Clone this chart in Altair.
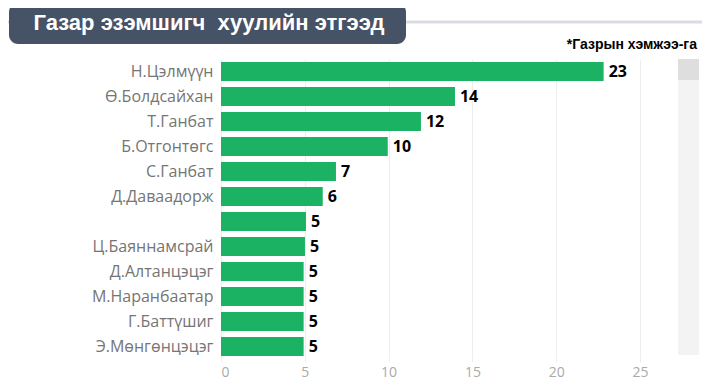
import altair as alt
import pandas as pd

names = ["Н.Цэлмүүн", "Ө.Болдсайхан", "Т.Ганбат", "Б.Отгонтөгс", "С.Ганбат",
         "Д.Даваадорж", "", "Ц.Баяннамсрай", "Д.Алтанцэцэг", "М.Наранбаатар",
         "Г.Баттүшиг", "Э.Мөнгөнцэцэг"]
values = [22.83, 13.96, 11.93, 9.95, 6.86, 6.07, 5.07, 5.01, 4.93, 4.93, 4.93, 4.93]
x_ticks = [0, 5, 10, 15, 20, 25]
title_text = "Газар эзэмшигч\u00a0 хуулийн этгээд"
subtitle_text = "*Газрын хэмжээ-га"

df = pd.DataFrame({"name": names, "value": values})
one = pd.DataFrame({"k": [0]})

W, H = 479, 300
green = "#1bb363"

xscale = alt.Scale(domain=[0, 28.58], nice=False, zero=True)
yenc = alt.Y("name:N", sort=names, scale=alt.Scale(paddingInner=0.24, paddingOuter=0.12),
             axis=alt.Axis(title=None, domain=False, ticks=False, labelFont="Open Sans",
                           labelFontSize=16, labelColor="#757575", labelPadding=8,
                           labelLimit=200))
xenc = alt.X("value:Q", scale=xscale,
             axis=alt.Axis(title=None, values=x_ticks, grid=True, gridColor="#eeeeee",
                           domain=False, ticks=True, tickColor="#eeeeee", tickSize=3,
                           labelFont="Open Sans", labelFontSize=14, labelColor="#aaaaaa",
                           labelPadding=3))

line = alt.Chart(one).mark_rule(color="#d9dde3", strokeWidth=3).encode(
    x=alt.value(-221), x2=alt.value(490), y=alt.value(-37))
box = alt.Chart(one).mark_rect(color="#465366", cornerRadius=9).encode(
    x=alt.value(-212), x2=alt.value(185), y=alt.value(-56), y2=alt.value(-15))
title = alt.Chart(one).mark_text(text=title_text, font="Liberation Sans", fontSize=22,
                                  fontWeight="bold", color="white", align="center",
                                  baseline="middle").encode(
    x=alt.value(-12), y=alt.value(-36))
subtitle = alt.Chart(one).mark_text(text=subtitle_text, font="Liberation Sans", fontSize=14,
                                     fontWeight="bold", color="black", align="right",
                                     baseline="middle").encode(
    x=alt.value(476), y=alt.value(-14))
track = alt.Chart(one).mark_rect(color="#f3f3f3").encode(
    x=alt.value(457), x2=alt.value(478), y=alt.value(0), y2=alt.value(296))
thumb = alt.Chart(one).mark_rect(color="#dedede").encode(
    x=alt.value(457), x2=alt.value(478), y=alt.value(0), y2=alt.value(21))

bars = alt.Chart(df).mark_bar(color=green).encode(x=xenc, y=yenc)
labels = alt.Chart(df).mark_text(align="left", baseline="middle", dx=5, font="Noto Sans",
                                 fontSize=16, fontWeight="bold", color="black").encode(
    x=alt.X("value:Q", scale=xscale), y=alt.Y("name:N", sort=names),
    text=alt.Text("value:Q", format=".0f"))

chart = alt.layer(line, box, title, subtitle, track, thumb, bars, labels).properties(
    width=W, height=H,
    autosize=alt.AutoSizeParams(type="none"),
    padding={"left": 213, "top": 51, "right": 2, "bottom": 21},
    background="white",
).configure_view(stroke=None)

chart.save("out.html", embed_options={"renderer": "svg", "actions": False})
